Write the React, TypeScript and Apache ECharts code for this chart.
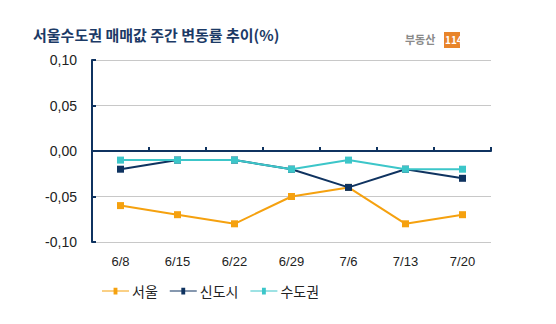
import React, { useEffect, useRef } from "react";
import * as echarts from "echarts";

const categories = ["6/8", "6/15", "6/22", "6/29", "7/6", "7/13", "7/20"];
const seoul = [-0.06, -0.07, -0.08, -0.05, -0.04, -0.08, -0.07];
const newTown = [-0.02, -0.01, -0.01, -0.02, -0.04, -0.02, -0.03];
const capital = [-0.01, -0.01, -0.01, -0.02, -0.01, -0.02, -0.02];
const seriesNames = ["서울", "신도시", "수도권"];
const colors = ["#f5a10f", "#0f3360", "#3cc6c9"];

export default function App() {
  const ref = useRef<HTMLDivElement>(null);
  useEffect(() => {
    document.body.style.margin = "0";
    const chart = echarts.init(ref.current!, undefined, { renderer: "svg" });
    const font = "'Noto Sans CJK KR', 'DejaVu Sans', sans-serif";
    const labelFont = "'Liberation Sans', 'DejaVu Sans', sans-serif";
    const mk = (name: string, data: number[], color: string) => ({
      name,
      type: "line",
      data,
      xAxisIndex: 0,
      symbol: "rect",
      symbolSize: 7,
      lineStyle: { color, width: 2 },
      itemStyle: { color },
      z: 3,
    });
    chart.setOption({
      animation: false,
      backgroundColor: "#ffffff",
      textStyle: { fontFamily: font },
      title: {
        text: "서울수도권 매매값 주간 변동률 추이(%)",
        left: 28,
        top: 22,
        textStyle: { fontSize: 15, fontWeight: "bold", color: "#1c3a66", fontFamily: font },
      },
      graphic: [
        {
          type: "text",
          left: 405,
          top: 33,
          style: { text: "부동산", fontSize: 11, fontWeight: "bold", fill: "#8a8a8a", fontFamily: font },
        },
        {
          type: "rect",
          left: 444,
          top: 32,
          shape: { width: 16, height: 16 },
          style: { fill: "#e8842a" },
        },
        {
          type: "text",
          left: 445,
          top: 34,
          style: { text: "114", fontSize: 10, fontWeight: "bold", fill: "#ffffff", fontFamily: font },
        },
      ],
      legend: {
        data: seriesNames,
        left: 97,
        top: 279,
        itemWidth: 27,
        itemHeight: 7,
        itemGap: 12,
        textStyle: { fontSize: 14, color: "#222", fontFamily: font, padding: [0, 0, 0, -2] },
        icon: "path://M0,3h12v-3h4v3h12v1h-12v3h-4v-3h-12z",
      },
      grid: { left: 92, right: 65, top: 60, bottom: 82 },
      xAxis: [
        {
          type: "category",
          data: categories,
          position: "bottom",
          axisLine: { onZero: true, lineStyle: { color: "#0f3360", width: 2 } },
          axisTick: { show: true, inside: true, length: 4, lineStyle: { color: "#0f3360", width: 2 } },
          axisLabel: { show: false },
          splitLine: { show: false },
          z: 2,
        },
        {
          type: "category",
          data: categories,
          position: "bottom",
          axisLine: { show: false, onZero: false },
          axisTick: { show: false },
          axisLabel: { show: true, fontSize: 13, color: "#222", margin: 13, fontFamily: labelFont },
          splitLine: { show: false },
        },
      ],
      yAxis: {
        type: "value",
        min: -0.1,
        max: 0.1,
        interval: 0.05,
        axisLine: { show: true, lineStyle: { color: "#0f3360", width: 2 } },
        axisTick: { show: true, inside: true, length: 4, lineStyle: { color: "#0f3360", width: 2 } },
        axisLabel: {
          fontSize: 14,
          color: "#222",
          margin: 15,
          fontFamily: labelFont,
          formatter: (v: number) => v.toFixed(2).replace(".", ","),
        },
        splitLine: { show: true, lineStyle: { color: "#c8c8c8", width: 1 } },
      },
      series: [
        mk(seriesNames[0], seoul, colors[0]),
        mk(seriesNames[1], newTown, colors[1]),
        mk(seriesNames[2], capital, colors[2]),
      ],
    });
    return () => chart.dispose();
  }, []);
  return <div ref={ref} style={{ width: 556, height: 324 }} />;
}
